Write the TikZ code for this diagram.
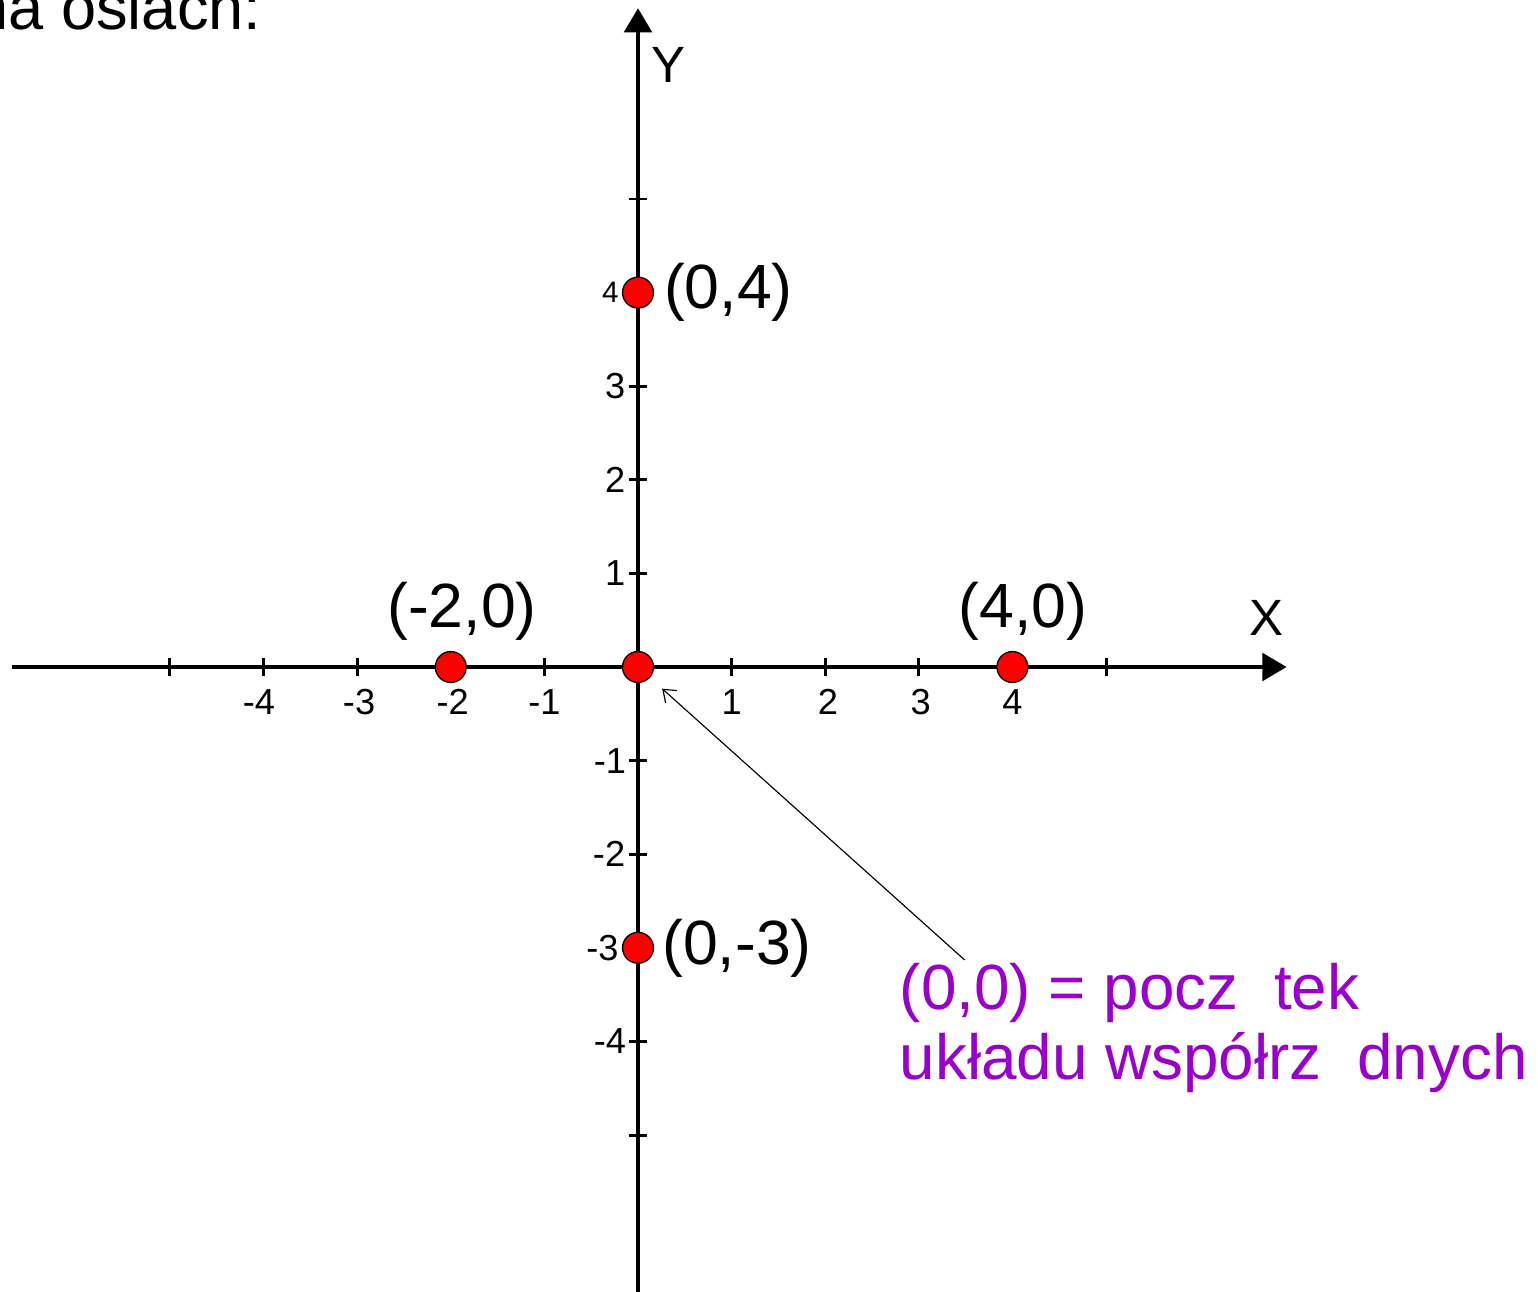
\documentclass[tikz,border=0pt]{standalone}
\usepackage{fontspec}
\setmainfont{Liberation Sans}
\usetikzlibrary{arrows.meta,positioning}
\definecolor{notepurple}{RGB}{153,0,204}

\begin{document}
\begin{tikzpicture}[
    dot/.style={circle, draw, fill=red, line width=0.4pt, inner sep=0pt, minimum size=0.33cm},
    lab/.style={inner sep=0pt, font=\fontsize{19}{21}\selectfont},
    axlab/.style={inner sep=0pt, font=\fontsize{15.5}{18}\selectfont},
    ticklab/.style={inner sep=0pt, font=\fontsize{11}{13}\selectfont},
    note/.style={inner sep=0pt, align=left, text=notepurple, font=\fontsize{19.4}{21.2}\selectfont},
    axis/.style={line width=1.5pt, -{Triangle[length=0.26cm, width=0.29cm]}},
    tick/.style={line width=0.9pt},
    pointer/.style={line width=0.35pt, -{Straight Barb[length=0.12cm, width=0.18cm]}},
]
    \useasboundingbox (-6.816,-6.667) rectangle (9.615,7.126);
    \clip (-6.816,-6.667) rectangle (9.615,7.126);

    \node[anchor=base west, inner sep=0pt, font=\fontsize{19.2}{22}\selectfont] (head) at (-7.106,6.806) {na osiach:};

    % axes
    \draw[axis] (-6.69,0) -- (6.93,0);
    \draw[axis] (0,-6.8) -- (0,7.04);
    \node[axlab] (xlab) at (6.71,0.52) {X};
    \node[axlab] (ylab) at (0.33,6.43) {Y};

    % ticks
    \draw[tick] (-5,-0.1) -- (-5,0.1) (-4,-0.1) -- (-4,0.1) (-3,-0.1) -- (-3,0.1)
        (-2,-0.1) -- (-2,0.1) (-1,-0.1) -- (-1,0.1) (1,-0.1) -- (1,0.1)
        (2,-0.1) -- (2,0.1) (3,-0.1) -- (3,0.1) (4,-0.1) -- (4,0.1) (5,-0.1) -- (5,0.1);
    \draw[tick] (-0.1,-5) -- (0.1,-5) (-0.1,-4) -- (0.1,-4) (-0.1,-3) -- (0.1,-3)
        (-0.1,-2) -- (0.1,-2) (-0.1,-1) -- (0.1,-1) (-0.1,1) -- (0.1,1)
        (-0.1,2) -- (0.1,2) (-0.1,3) -- (0.1,3) (-0.1,4) -- (0.1,4) (-0.1,5) -- (0.1,5);

    \node[ticklab] (xm4) at (-4.05,-0.37) {-4};
    \node[ticklab] (xm3) at (-2.98,-0.37) {-3};
    \node[ticklab] (xm2) at (-1.98,-0.37) {-2};
    \node[ticklab] (xm1) at (-1,-0.37) {-1};
    \node[ticklab] (x1) at (1,-0.37) {1};
    \node[ticklab] (x2) at (2.03,-0.37) {2};
    \node[ticklab] (x3) at (3.02,-0.37) {3};
    \node[ticklab] (x4) at (4,-0.37) {4};
    \node[ticklab, anchor=east, font=\fontsize{9}{11}\selectfont] (y4) at (-0.2,4) {4};
    \node[ticklab, anchor=east] (y3) at (-0.13,3) {3};
    \node[ticklab, anchor=east] (y2) at (-0.13,2) {2};
    \node[ticklab, anchor=east] (y1) at (-0.13,1) {1};
    \node[ticklab, anchor=east] (ym1) at (-0.12,-1) {-1};
    \node[ticklab, anchor=east] (ym2) at (-0.13,-2) {-2};
    \node[ticklab, anchor=east] (ym3) at (-0.2,-3) {-3};
    \node[ticklab, anchor=east] (ym4) at (-0.12,-4) {-4};

    % points
    \node[dot] (p04) at (0,4) {};
    \node[dot] (pm20) at (-2,0) {};
    \node[dot] (p00) at (0,0) {};
    \node[dot] (p40) at (4,0) {};
    \node[dot] (p0m3) at (0,-3) {};

    \node[lab, right=0.1cm of p04] (l04) {(0,4)};
    \node[lab, right=0.08cm of p0m3] (l0m3) {(0,-3)};
    \node[lab, above=0.1cm of pm20, xshift=0.12cm] (lm20) {(-2,0)};
    \node[lab, above=0.1cm of p40, xshift=0.11cm] (l40) {(4,0)};

    % origin note
    \node[note, anchor=north west] (note) at (2.79,-3.162) {(0,0) = pocz\phantom{ą}tek\\układu współrz\phantom{ę}dnych};
    \coordinate (note_tail) at (3.49,-3.13);
    \draw[pointer, shorten >=0.175cm] (note_tail) -- (p00);
\end{tikzpicture}
\end{document}
